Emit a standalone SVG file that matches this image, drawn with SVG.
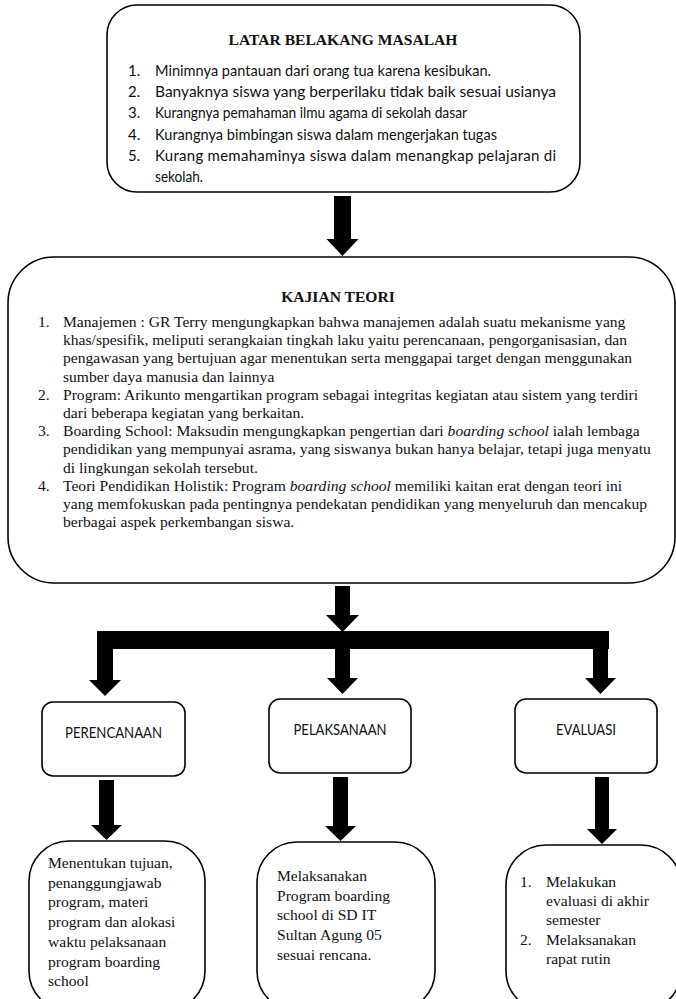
<svg xmlns="http://www.w3.org/2000/svg" width="676" height="999" viewBox="0 0 676 999">
<defs>
<style>
.box{fill:#fff;stroke:#000;stroke-width:1.6}
.serif{font-family:"Liberation Serif","Times New Roman",serif;font-size:15.6px;fill:#111}
.sans{font-family:Lato,"Open Sans",sans-serif;font-size:15px;fill:#111}
.bold{font-weight:bold}
.arr{fill:#000}
</style>
</defs>
<rect width="676" height="999" fill="#fff"/>

<g id="latar-belakang">
<rect class="box" x="107" y="5" width="473" height="187" rx="30" ry="30"/>
<text class="serif bold" x="343" y="45" text-anchor="middle">LATAR BELAKANG MASALAH</text>
<text class="sans" x="128" y="76">1.</text>
<text class="sans" x="155" y="76" textLength="336" lengthAdjust="spacingAndGlyphs">Minimnya pantauan dari orang tua karena kesibukan.</text>
<text class="sans" x="128" y="97.2">2.</text>
<text class="sans" x="155" y="97.2" textLength="401" lengthAdjust="spacingAndGlyphs">Banyaknya siswa yang berperilaku tidak baik sesuai usianya</text>
<text class="sans" x="128" y="118.4">3.</text>
<text class="sans" x="155" y="118.4" textLength="312" lengthAdjust="spacingAndGlyphs">Kurangnya pemahaman ilmu agama di sekolah dasar</text>
<text class="sans" x="128" y="139.6">4.</text>
<text class="sans" x="155" y="139.6" textLength="342" lengthAdjust="spacingAndGlyphs">Kurangnya bimbingan siswa dalam mengerjakan tugas</text>
<text class="sans" x="128" y="160.8">5.</text>
<text class="sans" x="155" y="160.8" textLength="401" lengthAdjust="spacing">Kurang memahaminya siswa dalam menangkap pelajaran di</text>
<text class="sans" x="155" y="182" textLength="48" lengthAdjust="spacingAndGlyphs">sekolah.</text>
</g>

<g id="kajian-teori">
<rect class="box" x="8" y="257" width="667" height="326" rx="46" ry="46"/>
<text class="serif bold" x="338" y="302" text-anchor="middle">KAJIAN TEORI</text>
<text class="serif" x="38" y="327">1.</text>
<text class="serif" x="63" y="327">Manajemen : GR Terry mengungkapkan bahwa manajemen adalah suatu mekanisme yang</text>
<text class="serif" x="63" y="345.2">khas/spesifik, meliputi serangkaian tingkah laku yaitu perencanaan, pengorganisasian, dan</text>
<text class="serif" x="63" y="363.4">pengawasan yang bertujuan agar menentukan serta menggapai target dengan menggunakan</text>
<text class="serif" x="63" y="381.6">sumber daya manusia dan lainnya</text>
<text class="serif" x="38" y="399.8">2.</text>
<text class="serif" x="63" y="399.8">Program: Arikunto mengartikan program sebagai integritas kegiatan atau sistem yang terdiri</text>
<text class="serif" x="63" y="418">dari beberapa kegiatan yang berkaitan.</text>
<text class="serif" x="38" y="436.2">3.</text>
<text class="serif" x="63" y="436.2">Boarding School: Maksudin mengungkapkan pengertian dari <tspan font-style="italic">boarding school</tspan> ialah lembaga</text>
<text class="serif" x="63" y="454.4">pendidikan yang mempunyai asrama, yang siswanya bukan hanya belajar, tetapi juga menyatu</text>
<text class="serif" x="63" y="472.6">di lingkungan sekolah tersebut.</text>
<text class="serif" x="38" y="490.8">4.</text>
<text class="serif" x="63" y="490.8">Teori Pendidikan Holistik: Program <tspan font-style="italic">boarding school</tspan> memiliki kaitan erat dengan teori ini</text>
<text class="serif" x="63" y="509">yang memfokuskan pada pentingnya pendekatan pendidikan yang menyeluruh dan mencakup</text>
<text class="serif" x="63" y="527.2">berbagai aspek perkembangan siswa.</text>
</g>

<g id="perencanaan">
<rect class="box" x="42" y="702" width="143" height="74" rx="11" ry="11"/>
<text class="sans" x="113.5" y="738" text-anchor="middle" textLength="97" lengthAdjust="spacingAndGlyphs">PERENCANAAN</text>
</g>
<g id="pelaksanaan">
<rect class="box" x="269" y="699" width="142" height="74" rx="11" ry="11"/>
<text class="sans" x="340" y="735" text-anchor="middle" textLength="93" lengthAdjust="spacingAndGlyphs">PELAKSANAAN</text>
</g>
<g id="evaluasi">
<rect class="box" x="515" y="699" width="142" height="74" rx="11" ry="11"/>
<text class="sans" x="586" y="735" text-anchor="middle" textLength="60" lengthAdjust="spacingAndGlyphs">EVALUASI</text>
</g>

<g id="detail-perencanaan">
<rect class="box" x="29" y="841" width="176" height="170" rx="40" ry="40"/>
<text class="serif" x="48" y="868">Menentukan tujuan,</text>
<text class="serif" x="48" y="887.7">penanggungjawab</text>
<text class="serif" x="48" y="907.4">program, materi</text>
<text class="serif" x="48" y="927.1">program dan alokasi</text>
<text class="serif" x="48" y="946.8">waktu pelaksanaan</text>
<text class="serif" x="48" y="966.5">program boarding</text>
<text class="serif" x="48" y="986.2">school</text>
</g>
<g id="detail-pelaksanaan">
<rect class="box" x="257" y="842" width="178" height="169" rx="40" ry="40"/>
<text class="serif" x="277" y="881">Melaksanakan</text>
<text class="serif" x="277" y="900.7">Program boarding</text>
<text class="serif" x="277" y="920.4">school di SD IT</text>
<text class="serif" x="277" y="940.1">Sultan Agung 05</text>
<text class="serif" x="277" y="959.8">sesuai rencana.</text>
</g>
<g id="detail-evaluasi">
<rect class="box" x="506" y="845" width="175" height="166" rx="40" ry="40"/>
<text class="serif" x="520" y="887">1.</text>
<text class="serif" x="546" y="887">Melakukan</text>
<text class="serif" x="546" y="906">evaluasi di akhir</text>
<text class="serif" x="546" y="925">semester</text>
<text class="serif" x="520" y="944.5">2.</text>
<text class="serif" x="546" y="944.5">Melaksanakan</text>
<text class="serif" x="546" y="963.5">rapat rutin</text>
</g>

<g id="connectors">
<polygon class="arr" points="334,196 351,196 351,239 358.5,239 342.5,256 326.5,239 334,239"/>
<polygon class="arr" points="335,586 350,586 350,615 359,615 342.5,632 326,615 335,615"/>
<rect class="arr" x="97" y="631" width="512" height="18"/>
<polygon class="arr" points="97,647 113,647 113,680 121,680 105,696 89,680 97,680"/>
<polygon class="arr" points="335,647 350,647 350,678 358,678 342.5,694 327,678 335,678"/>
<polygon class="arr" points="593,647 608,647 608,678 616,678 600.5,694 585,678 593,678"/>
<polygon class="arr" points="99,780 114,780 114,825 122,825 106.5,840 91,825 99,825"/>
<polygon class="arr" points="333,777 348,777 348,826 356,826 340.5,841 325,826 333,826"/>
<polygon class="arr" points="595,777 609,777 609,829 617,829 602,844 587,829 595,829"/>
</g>
</svg>
